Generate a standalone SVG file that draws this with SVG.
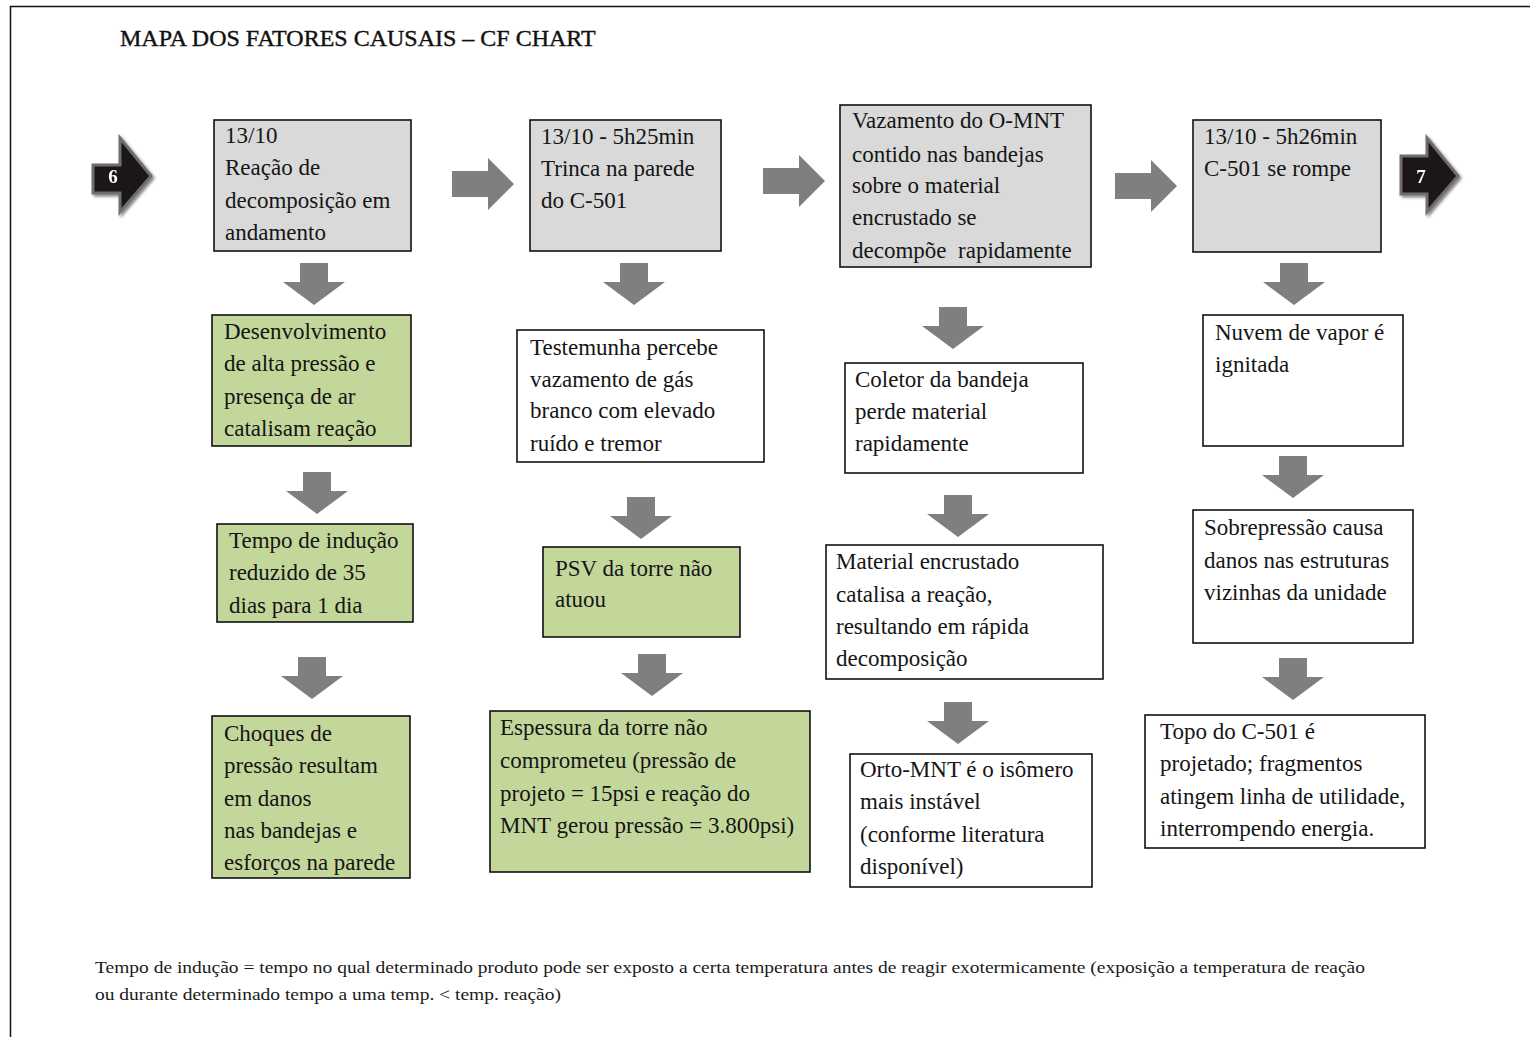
<svg xmlns="http://www.w3.org/2000/svg" xmlns:xlink="http://www.w3.org/1999/xlink" width="1530" height="1037" viewBox="0 0 1530 1037">
  <style>
    .box { stroke: #111; stroke-width: 1.6; }
    .gray { fill: #d9d9d9; }
    .green { fill: #c4d79b; }
    .white { fill: #ffffff; }
    .txt { font-family: "Liberation Serif", "Times New Roman", serif; font-size: 23px; fill: #151515; }
    .title { font-family: "Liberation Serif", "Times New Roman", serif; font-size: 24px; fill: #111; stroke: #111; stroke-width: 0.4; }
    .note { font-family: "Liberation Serif", "Times New Roman", serif; font-size: 16px; fill: #1a1a1a; }
    .arrow { fill: #7f7f7f; }
    .page { fill: #1c1712; stroke: #6e6e6e; stroke-width: 3; stroke-linejoin: miter; }
    .pagenum { font-family: "Liberation Serif", "Times New Roman", serif; font-size: 19px; font-weight: bold; fill: #ffffff; text-anchor: middle; }
  </style>
  <defs>
    <!-- block arrow pointing down: origin at top centre -->
    <path id="down" d="M-14,0 H14 V19 H31 L0,42 L-31,19 H-14 Z"/>
    <!-- block arrow pointing right: origin at left middle -->
    <path id="right" d="M0,-13 H36 V-26 L62,0 L36,26 V13 H0 Z"/>
    <filter id="shadow" x="-30%" y="-30%" width="160%" height="160%">
      <feGaussianBlur in="SourceAlpha" stdDeviation="1.5"/>
      <feOffset dx="2" dy="2" result="b"/>
      <feComponentTransfer><feFuncA type="linear" slope="0.5"/></feComponentTransfer>
      <feMerge><feMergeNode/><feMergeNode in="SourceGraphic"/></feMerge>
    </filter>
  </defs>

  <rect x="0" y="0" width="1530" height="1037" fill="#ffffff"/>
  <!-- page frame: top and left rules -->
  <path d="M10.5,1037 V6.5 H1530" fill="none" stroke="#111" stroke-width="1.5"/>

  <text class="title" x="120" y="46">MAPA DOS FATORES CAUSAIS – CF CHART</text>

  <!-- off-page reference arrows -->
  <g id="ref-6" filter="url(#shadow)">
    <path class="page" d="M93,165 H120 V138 L151,176 L120,212 V193 H93 Z"/>
    <text class="pagenum" x="113" y="183">6</text>
  </g>
  <g id="ref-7" filter="url(#shadow)">
    <path class="page" d="M1401,156 H1427 V138 L1458,176 L1427,212 V194 H1401 Z"/>
    <text class="pagenum" x="1421" y="183">7</text>
  </g>

  <!-- column 1 -->
  <g id="n-reacao">
    <rect class="box gray" x="214" y="120" width="197" height="131"/>
    <text class="txt" x="225" y="143">13/10</text>
    <text class="txt" x="225" y="175">Reação de</text>
    <text class="txt" x="225" y="208">decomposição em</text>
    <text class="txt" x="225" y="240">andamento</text>
  </g>
  <g id="n-alta-pressao">
    <rect class="box green" x="212" y="315" width="199" height="131"/>
    <text class="txt" x="224" y="339">Desenvolvimento</text>
    <text class="txt" x="224" y="371">de alta pressão e</text>
    <text class="txt" x="224" y="404">presença de ar</text>
    <text class="txt" x="224" y="436">catalisam reação</text>
  </g>
  <g id="n-inducao">
    <rect class="box green" x="217" y="524" width="196" height="98"/>
    <text class="txt" x="229" y="548">Tempo de indução</text>
    <text class="txt" x="229" y="580">reduzido de 35</text>
    <text class="txt" x="229" y="613">dias para 1 dia</text>
  </g>
  <g id="n-choques">
    <rect class="box green" x="212" y="716" width="198" height="162"/>
    <text class="txt" x="224" y="741">Choques de</text>
    <text class="txt" x="224" y="773">pressão resultam</text>
    <text class="txt" x="224" y="806">em danos</text>
    <text class="txt" x="224" y="838">nas bandejas e</text>
    <text class="txt" x="224" y="870">esforços na parede</text>
  </g>

  <!-- column 2 -->
  <g id="n-trinca">
    <rect class="box gray" x="530" y="120" width="191" height="131"/>
    <text class="txt" x="541" y="144">13/10 - 5h25min</text>
    <text class="txt" x="541" y="176">Trinca na parede</text>
    <text class="txt" x="541" y="208">do C-501</text>
  </g>
  <g id="n-testemunha">
    <rect class="box white" x="517" y="330" width="247" height="132"/>
    <text class="txt" x="530" y="355">Testemunha percebe</text>
    <text class="txt" x="530" y="387">vazamento de gás</text>
    <text class="txt" x="530" y="418">branco com elevado</text>
    <text class="txt" x="530" y="451">ruído e tremor</text>
  </g>
  <g id="n-psv">
    <rect class="box green" x="543" y="547" width="197" height="90"/>
    <text class="txt" x="555" y="576">PSV da torre não</text>
    <text class="txt" x="555" y="607">atuou</text>
  </g>
  <g id="n-espessura">
    <rect class="box green" x="490" y="711" width="320" height="161"/>
    <text class="txt" x="500" y="735">Espessura da torre não</text>
    <text class="txt" x="500" y="768">comprometeu (pressão de</text>
    <text class="txt" x="500" y="801">projeto = 15psi e reação do</text>
    <text class="txt" x="500" y="833">MNT gerou pressão = 3.800psi)</text>
  </g>

  <!-- column 3 -->
  <g id="n-vazamento">
    <rect class="box gray" x="840" y="105" width="251" height="162"/>
    <text class="txt" x="852" y="128">Vazamento do O-MNT</text>
    <text class="txt" x="852" y="162">contido nas bandejas</text>
    <text class="txt" x="852" y="193">sobre o material</text>
    <text class="txt" x="852" y="225">encrustado se</text>
    <text class="txt" x="852" y="258" xml:space="preserve">decompõe  rapidamente</text>
  </g>
  <g id="n-coletor">
    <rect class="box white" x="845" y="363" width="238" height="110"/>
    <text class="txt" x="855" y="387">Coletor da bandeja</text>
    <text class="txt" x="855" y="419">perde material</text>
    <text class="txt" x="855" y="451">rapidamente</text>
  </g>
  <g id="n-catalisa">
    <rect class="box white" x="826" y="545" width="277" height="134"/>
    <text class="txt" x="836" y="569">Material encrustado</text>
    <text class="txt" x="836" y="602">catalisa a reação,</text>
    <text class="txt" x="836" y="634">resultando em rápida</text>
    <text class="txt" x="836" y="666">decomposição</text>
  </g>
  <g id="n-orto">
    <rect class="box white" x="850" y="754" width="242" height="133"/>
    <text class="txt" x="860" y="777">Orto-MNT é o isômero</text>
    <text class="txt" x="860" y="809">mais instável</text>
    <text class="txt" x="860" y="842">(conforme literatura</text>
    <text class="txt" x="860" y="874">disponível)</text>
  </g>

  <!-- column 4 -->
  <g id="n-rompe">
    <rect class="box gray" x="1193" y="120" width="188" height="132"/>
    <text class="txt" x="1204" y="144">13/10 - 5h26min</text>
    <text class="txt" x="1204" y="176">C-501 se rompe</text>
  </g>
  <g id="n-nuvem">
    <rect class="box white" x="1203" y="315" width="200" height="131"/>
    <text class="txt" x="1215" y="340">Nuvem de vapor é</text>
    <text class="txt" x="1215" y="372">ignitada</text>
  </g>
  <g id="n-sobrepressao">
    <rect class="box white" x="1193" y="510" width="220" height="133"/>
    <text class="txt" x="1204" y="535">Sobrepressão causa</text>
    <text class="txt" x="1204" y="568">danos nas estruturas</text>
    <text class="txt" x="1204" y="600">vizinhas da unidade</text>
  </g>
  <g id="n-topo">
    <rect class="box white" x="1145" y="715" width="280" height="133"/>
    <text class="txt" x="1160" y="739">Topo do C-501 é</text>
    <text class="txt" x="1160" y="771">projetado; fragmentos</text>
    <text class="txt" x="1160" y="804">atingem linha de utilidade,</text>
    <text class="txt" x="1160" y="836">interrompendo energia.</text>
  </g>

  <!-- block arrows linking the boxes -->
  <g id="connectors" class="arrow">
    <use xlink:href="#right" x="452" y="184"/>
    <use xlink:href="#right" x="763" y="181"/>
    <use xlink:href="#right" x="1115" y="186"/>

    <use xlink:href="#down" x="314" y="263"/>
    <use xlink:href="#down" x="317" y="472"/>
    <use xlink:href="#down" x="312" y="657"/>

    <use xlink:href="#down" x="634" y="263"/>
    <use xlink:href="#down" x="641" y="497"/>
    <use xlink:href="#down" x="652" y="654"/>

    <use xlink:href="#down" x="953" y="307"/>
    <use xlink:href="#down" x="958" y="495"/>
    <use xlink:href="#down" x="958" y="702"/>

    <use xlink:href="#down" x="1294" y="263"/>
    <use xlink:href="#down" x="1293" y="456"/>
    <use xlink:href="#down" x="1293" y="658"/>
  </g>

  <!-- footnote -->
  <text class="note" x="95" y="973" textLength="1270" lengthAdjust="spacingAndGlyphs">Tempo de indução = tempo no qual determinado produto pode ser exposto a certa temperatura antes de reagir exotermicamente (exposição a temperatura de reação</text>
  <text class="note" x="95" y="1000" textLength="466" lengthAdjust="spacingAndGlyphs">ou durante determinado tempo a uma temp. &lt; temp. reação)</text>
</svg>
